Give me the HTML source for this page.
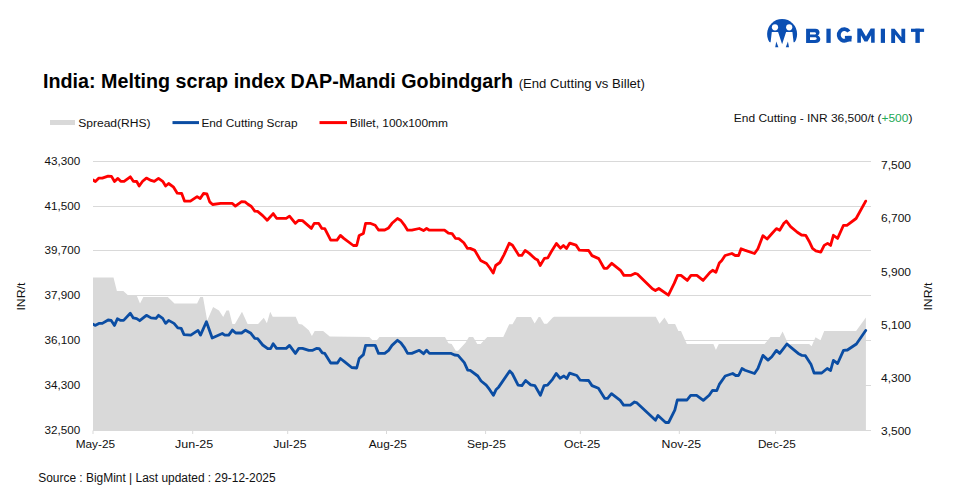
<!DOCTYPE html>
<html><head><meta charset="utf-8"><style>
html,body{margin:0;padding:0;background:#fff;width:953px;height:497px;overflow:hidden}
svg{display:block}
text{font-family:"Liberation Sans", sans-serif}
</style></head><body>
<svg width="953" height="497" viewBox="0 0 953 497">
<defs><clipPath id="pc"><rect x="93" y="100" width="800" height="340"/></clipPath></defs>
<line x1="93" y1="161.5" x2="871" y2="161.5" stroke="#d9d9d9" stroke-width="1.2"/>
<line x1="93" y1="206.5" x2="871" y2="206.5" stroke="#d9d9d9" stroke-width="1.2"/>
<line x1="93" y1="250.5" x2="871" y2="250.5" stroke="#d9d9d9" stroke-width="1.2"/>
<line x1="93" y1="295.5" x2="871" y2="295.5" stroke="#d9d9d9" stroke-width="1.2"/>
<line x1="93" y1="340.5" x2="871" y2="340.5" stroke="#d9d9d9" stroke-width="1.2"/>
<line x1="93" y1="385.5" x2="871" y2="385.5" stroke="#d9d9d9" stroke-width="1.2"/>
<line x1="93" y1="430.5" x2="871" y2="430.5" stroke="#d9d9d9" stroke-width="1.2"/>
<polygon points="93.0,430.5 93.0,277.6 113.5,277.6 116.9,291.0 123.3,291.0 128.3,295.5 136.7,295.5 140.0,303.6 143.4,296.9 167.8,296.9 174.5,303.6 197.1,303.6 200.2,296.9 203.0,296.9 207.2,320.4 213.1,306.9 219.0,310.6 223.2,317.0 226.5,310.6 229.0,310.6 232.4,324.1 234.9,324.1 242.0,311.8 247.6,323.9 258.1,323.9 263.8,317.7 266.9,323.2 270.2,311.8 272.7,316.8 295.7,316.8 298.8,323.9 302.1,324.4 308.8,330.3 311.9,336.1 314.7,331.1 323.1,331.1 329.8,336.6 369.3,337.0 372.6,340.3 376.8,340.3 379.4,337.0 445.0,336.9 448.4,343.3 451.7,344.0 455.8,350.7 458.0,350.7 465.5,342.8 468.9,336.9 473.1,336.9 477.3,344.0 480.6,344.0 487.3,336.9 503.3,336.9 509.2,324.3 512.5,324.3 516.7,317.1 531.0,317.1 534.7,323.5 538.6,317.1 540.2,317.1 544.1,323.8 547.0,323.8 552.8,317.6 554.2,316.8 655.8,316.8 659.5,323.8 664.5,317.6 668.4,324.0 675.1,324.0 678.4,331.1 681.0,331.1 686.8,344.0 713.4,344.0 715.9,350.0 718.8,344.0 764.6,344.0 770.5,336.9 779.7,336.9 782.6,331.6 787.3,342.0 789.0,344.0 809.1,344.0 811.6,346.2 815.5,337.3 820.5,340.3 824.2,331.1 856.1,331.1 865.9,317.5 865.9,430.5" fill="#d9d9d9"/>
<line x1="93" y1="430.5" x2="93" y2="434" stroke="#d9d9d9" stroke-width="1"/>
<line x1="192.7" y1="430.5" x2="192.7" y2="434" stroke="#d9d9d9" stroke-width="1"/>
<line x1="287.7" y1="430.5" x2="287.7" y2="434" stroke="#d9d9d9" stroke-width="1"/>
<line x1="386.5" y1="430.5" x2="386.5" y2="434" stroke="#d9d9d9" stroke-width="1"/>
<line x1="485.6" y1="430.5" x2="485.6" y2="434" stroke="#d9d9d9" stroke-width="1"/>
<line x1="580.3" y1="430.5" x2="580.3" y2="434" stroke="#d9d9d9" stroke-width="1"/>
<line x1="679.3" y1="430.5" x2="679.3" y2="434" stroke="#d9d9d9" stroke-width="1"/>
<line x1="775.6" y1="430.5" x2="775.6" y2="434" stroke="#d9d9d9" stroke-width="1"/>
<polyline points="93.0,324.1 95.1,325.4 98.9,323.4 102.3,323.4 108.1,320.0 111.2,320.4 114.5,325.4 117.4,318.7 120.7,320.4 123.6,320.4 130.3,313.3 133.3,317.9 136.7,318.7 139.7,320.7 146.4,315.3 151.0,317.9 156.0,318.4 158.5,315.3 162.7,318.4 165.6,323.4 168.6,320.4 174.0,323.4 177.8,327.9 181.2,328.4 184.0,334.6 190.8,335.1 198.0,330.4 200.5,335.1 206.4,321.7 212.2,338.0 222.3,333.5 224.8,335.1 228.7,335.1 232.4,330.1 235.7,333.0 241.6,333.0 245.5,330.2 250.9,333.3 254.8,338.3 257.6,338.7 262.7,345.0 267.7,348.7 270.6,348.7 273.2,343.7 276.6,348.4 286.2,348.4 289.5,345.4 295.4,353.4 298.8,348.4 302.5,348.4 308.8,350.4 312.2,350.4 316.4,348.4 319.2,348.7 322.3,352.9 324.8,353.4 330.7,363.0 337.4,363.0 340.4,358.5 344.1,361.3 351.7,367.5 356.7,368.0 359.2,358.5 363.4,354.6 365.6,345.4 375.2,345.4 378.5,353.4 384.7,353.4 388.6,350.4 392.0,345.4 397.5,340.3 400.9,342.8 404.2,347.3 407.6,353.4 411.8,353.4 419.3,350.3 423.5,353.7 426.6,350.3 429.4,353.4 451.2,353.4 454.6,355.0 458.0,355.4 464.3,362.6 467.7,370.1 470.2,370.4 477.8,376.0 481.1,381.0 486.2,385.2 489.5,389.4 493.4,395.3 496.2,389.4 498.8,386.9 509.7,371.0 512.2,373.5 518.1,385.2 521.9,385.6 525.6,380.5 530.7,384.9 534.9,385.6 540.4,395.3 544.1,385.6 547.5,385.2 552.5,379.3 556.2,373.5 560.0,378.2 563.9,376.0 566.8,378.5 569.6,373.1 576.8,375.5 580.2,380.2 588.6,380.5 592.0,385.6 598.4,388.3 604.8,398.4 607.6,398.4 611.5,393.7 620.2,400.4 623.6,405.1 630.3,405.1 634.5,402.0 637.0,402.9 655.5,420.2 658.0,415.5 665.6,422.5 668.6,422.5 674.8,410.1 677.3,400.0 687.0,400.0 690.7,395.3 696.6,395.3 703.3,400.4 709.2,395.3 712.6,390.3 716.8,390.6 719.3,384.4 725.2,376.0 732.7,373.5 735.7,375.5 738.6,375.5 742.0,368.5 745.0,370.2 754.5,373.5 757.9,368.5 762.9,355.4 768.0,360.1 771.8,356.8 776.4,350.4 779.7,353.4 783.6,348.4 786.9,344.0 791.5,347.9 798.2,353.4 802.0,355.4 805.4,355.7 811.1,364.6 814.1,373.0 821.7,373.0 827.2,368.5 830.6,370.5 833.4,360.4 837.6,363.5 843.5,350.4 847.4,350.0 856.4,344.0 865.7,330.5" fill="none" stroke="#0b4da3" stroke-width="2.8" stroke-linejoin="round" stroke-linecap="round" clip-path="url(#pc)"/>
<polyline points="93.0,180.0 95.4,181.5 98.9,178.1 102.3,178.1 108.1,176.2 111.5,176.4 114.5,181.5 117.9,178.4 120.7,181.3 124.1,181.3 130.3,176.8 133.3,181.3 136.7,181.5 139.2,186.0 142.6,181.3 146.4,178.1 151.0,180.4 154.3,181.3 158.5,178.4 162.7,181.3 165.6,186.0 168.6,183.5 173.6,187.2 177.3,193.2 181.7,193.5 184.5,201.1 190.4,201.1 197.1,196.6 200.2,198.6 203.5,193.5 206.9,193.9 209.7,201.9 212.6,204.5 220.6,203.3 232.1,203.3 235.4,206.1 241.6,201.6 245.0,201.9 247.6,204.0 251.4,206.5 254.8,211.1 257.6,211.4 262.7,215.6 267.2,220.3 273.2,213.6 276.6,218.3 286.2,218.3 289.5,216.1 295.4,223.3 298.8,220.3 302.5,220.6 311.4,228.4 314.2,223.3 318.6,223.3 321.9,228.4 324.8,228.7 330.7,240.1 337.0,240.1 340.4,235.4 343.8,238.4 353.3,245.5 356.7,245.5 359.2,235.4 363.4,233.4 365.6,223.3 370.1,223.3 375.2,225.3 378.5,230.0 384.7,230.0 388.6,227.9 392.0,223.3 397.5,218.5 400.9,220.5 404.2,224.8 407.6,230.2 411.8,230.2 419.3,228.5 423.5,230.6 426.6,228.5 429.4,230.2 444.5,230.2 448.4,233.2 452.1,233.6 455.4,238.3 458.8,238.6 463.8,242.8 467.5,248.4 470.2,248.4 474.8,250.4 480.6,260.4 486.5,263.5 489.9,268.0 493.2,273.0 495.7,265.5 499.9,262.5 504.1,254.6 509.2,243.3 512.5,245.3 518.9,255.4 521.8,255.4 525.1,250.4 529.3,253.4 535.2,258.8 537.7,260.1 540.2,265.5 544.4,258.4 547.8,257.9 551.1,252.0 556.4,243.5 560.4,248.2 563.4,245.5 566.5,248.5 569.8,243.1 576.0,245.1 579.4,250.2 588.6,250.5 592.0,255.6 598.7,258.6 604.1,268.3 607.1,268.3 611.8,263.3 620.5,270.3 623.9,275.4 630.6,275.4 634.8,273.4 637.3,274.0 652.4,288.8 655.4,290.5 658.8,288.5 668.4,295.2 674.2,283.4 677.6,275.4 681.0,275.4 687.3,280.4 691.0,275.4 696.9,275.4 703.1,280.4 710.0,272.3 712.6,270.3 715.9,272.3 719.3,263.0 721.8,260.5 725.1,255.5 731.9,253.5 735.2,255.5 738.6,255.5 741.1,248.8 744.5,250.1 754.5,253.5 757.9,248.8 762.9,235.7 767.1,239.0 772.2,233.3 776.4,228.6 779.7,230.3 783.9,223.2 786.4,221.1 790.6,226.6 797.3,232.3 801.5,235.0 805.7,235.3 809.1,241.2 812.5,248.4 815.8,250.8 820.8,252.1 824.2,245.4 827.6,243.4 830.6,245.4 833.4,235.3 837.6,238.4 843.5,225.3 846.9,225.3 856.1,218.5 865.7,201.1" fill="none" stroke="#ff0000" stroke-width="2.8" stroke-linejoin="round" stroke-linecap="round" clip-path="url(#pc)"/>
<text x="80.2" y="165.0" font-size="11.5" text-anchor="end" font-weight="normal" fill="#111" textLength="35.7" lengthAdjust="spacingAndGlyphs">43,300</text>
<text x="80.2" y="210.0" font-size="11.5" text-anchor="end" font-weight="normal" fill="#111" textLength="35.7" lengthAdjust="spacingAndGlyphs">41,500</text>
<text x="80.2" y="254.0" font-size="11.5" text-anchor="end" font-weight="normal" fill="#111" textLength="35.7" lengthAdjust="spacingAndGlyphs">39,700</text>
<text x="80.2" y="299.0" font-size="11.5" text-anchor="end" font-weight="normal" fill="#111" textLength="35.7" lengthAdjust="spacingAndGlyphs">37,900</text>
<text x="80.2" y="344.0" font-size="11.5" text-anchor="end" font-weight="normal" fill="#111" textLength="35.7" lengthAdjust="spacingAndGlyphs">36,100</text>
<text x="80.2" y="389.0" font-size="11.5" text-anchor="end" font-weight="normal" fill="#111" textLength="35.7" lengthAdjust="spacingAndGlyphs">34,300</text>
<text x="80.2" y="434.0" font-size="11.5" text-anchor="end" font-weight="normal" fill="#111" textLength="35.7" lengthAdjust="spacingAndGlyphs">32,500</text>
<text x="881" y="169.3" font-size="11.5" text-anchor="start" font-weight="normal" fill="#111" textLength="30" lengthAdjust="spacingAndGlyphs">7,500</text>
<text x="881" y="222.4" font-size="11.5" text-anchor="start" font-weight="normal" fill="#111" textLength="30" lengthAdjust="spacingAndGlyphs">6,700</text>
<text x="881" y="275.5" font-size="11.5" text-anchor="start" font-weight="normal" fill="#111" textLength="30" lengthAdjust="spacingAndGlyphs">5,900</text>
<text x="881" y="328.6" font-size="11.5" text-anchor="start" font-weight="normal" fill="#111" textLength="30" lengthAdjust="spacingAndGlyphs">5,100</text>
<text x="881" y="381.70000000000005" font-size="11.5" text-anchor="start" font-weight="normal" fill="#111" textLength="30" lengthAdjust="spacingAndGlyphs">4,300</text>
<text x="881" y="434.8" font-size="11.5" text-anchor="start" font-weight="normal" fill="#111" textLength="30" lengthAdjust="spacingAndGlyphs">3,500</text>
<text x="95.4" y="447.5" font-size="11.8" text-anchor="middle" font-weight="normal" fill="#111" textLength="39.4" lengthAdjust="spacingAndGlyphs">May-25</text>
<text x="194.1" y="447.5" font-size="11.8" text-anchor="middle" font-weight="normal" fill="#111" textLength="38.2" lengthAdjust="spacingAndGlyphs">Jun-25</text>
<text x="289.9" y="447.5" font-size="11.8" text-anchor="middle" font-weight="normal" fill="#111" textLength="33.3" lengthAdjust="spacingAndGlyphs">Jul-25</text>
<text x="387.8" y="447.5" font-size="11.8" text-anchor="middle" font-weight="normal" fill="#111" textLength="38.2" lengthAdjust="spacingAndGlyphs">Aug-25</text>
<text x="486.5" y="447.5" font-size="11.8" text-anchor="middle" font-weight="normal" fill="#111" textLength="38.9" lengthAdjust="spacingAndGlyphs">Sep-25</text>
<text x="582.2" y="447.5" font-size="11.8" text-anchor="middle" font-weight="normal" fill="#111" textLength="36.3" lengthAdjust="spacingAndGlyphs">Oct-25</text>
<text x="681.4" y="447.5" font-size="11.8" text-anchor="middle" font-weight="normal" fill="#111" textLength="39.6" lengthAdjust="spacingAndGlyphs">Nov-25</text>
<text x="776.8" y="447.5" font-size="11.8" text-anchor="middle" font-weight="normal" fill="#111" textLength="37.8" lengthAdjust="spacingAndGlyphs">Dec-25</text>
<text transform="translate(25.1,296.6) rotate(-90)" font-size="11" text-anchor="middle" fill="#111" textLength="28" lengthAdjust="spacingAndGlyphs">INR/t</text>
<text transform="translate(932,296.6) rotate(-90)" font-size="11" text-anchor="middle" fill="#111" textLength="28" lengthAdjust="spacingAndGlyphs">INR/t</text>
<text x="43" y="88.2" font-size="19.5" text-anchor="start" font-weight="bold" fill="#000" textLength="470" lengthAdjust="spacingAndGlyphs">India: Melting scrap index DAP-Mandi Gobindgarh</text>
<text x="518.7" y="88.2" font-size="13" text-anchor="start" font-weight="normal" fill="#111" textLength="126.2" lengthAdjust="spacingAndGlyphs">(End Cutting vs Billet)</text>
<rect x="50" y="120" width="25" height="5" fill="#d9d9d9"/>
<text x="78.2" y="126.7" font-size="11.7" text-anchor="start" font-weight="normal" fill="#111" textLength="72.4" lengthAdjust="spacingAndGlyphs">Spread(RHS)</text>
<line x1="172.5" y1="122.6" x2="199" y2="122.6" stroke="#0b4da3" stroke-width="3"/>
<text x="201.4" y="126.7" font-size="11.7" text-anchor="start" font-weight="normal" fill="#111" textLength="96.1" lengthAdjust="spacingAndGlyphs">End Cutting Scrap</text>
<line x1="319.5" y1="122.6" x2="347" y2="122.6" stroke="#ff0000" stroke-width="3"/>
<text x="349.8" y="126.7" font-size="11.7" text-anchor="start" font-weight="normal" fill="#111" textLength="98.2" lengthAdjust="spacingAndGlyphs">Billet, 100x100mm</text>
<text x="733.8" y="121.8" font-size="11.7" fill="#111" textLength="178.6" lengthAdjust="spacingAndGlyphs">End Cutting - INR 36,500/t (<tspan fill="#22a855">+500</tspan>)</text>
<text x="38.2" y="481.9" font-size="12.3" text-anchor="start" font-weight="normal" fill="#111" textLength="237.4" lengthAdjust="spacingAndGlyphs">Source : BigMint | Last updated : 29-12-2025</text>
<circle cx="782.1" cy="34.1" r="15" fill="#0b4fb3"/>
<circle cx="775.0" cy="27.3" r="3.1" fill="#fff"/>
<circle cx="789.2" cy="27.3" r="3.1" fill="#fff"/>
<polygon points="771.8,31.9 778.1,31.9 782.1,44.3 786.1,31.9 792.4,31.9 793.6,42.2 804,42.2 804,52 760,52 760,42.2 770.6,42.2" fill="#fff"/>
<polygon points="776.3,41.4 775.2,47.3 778.4,47.3" fill="#0b4fb3"/>
<polygon points="787.9,41.4 789.0,47.3 785.8,47.3" fill="#0b4fb3"/>
<path fill-rule="evenodd" fill="#0b4fb3" d="M806.1,28.7 H815.3 C818.2,28.7 819.5,30.3 819.5,32.2 C819.5,33.6 818.8,34.8 817.6,35.4 C819.3,36.0 820.3,37.4 820.3,39.2 C820.3,41.5 818.6,42.9 815.3,42.9 H806.1 Z M810.0,32.2 H814.4 C815.5,32.2 816.0,32.8 816.0,33.45 C816.0,34.1 815.5,34.6 814.4,34.6 H810.0 Z M810.0,37.3 H814.9 C816.1,37.3 816.7,37.9 816.7,38.6 C816.7,39.3 816.1,39.9 814.9,39.9 H810.0 Z"/>
<rect x="826.4" y="28.7" width="4.3" height="14.2" fill="#0b4fb3"/>
<path d="M848.9,31.5 A5.6 5.8 0 1 0 849.6,37.0" fill="none" stroke="#0b4fb3" stroke-width="3.9"/>
<rect x="844.9" y="35.9" width="6.6" height="2.9" fill="#0b4fb3"/>
<rect x="847.6" y="35.9" width="3.9" height="5.6" fill="#0b4fb3"/>
<polygon fill="#0b4fb3" points="857.3,42.8 857.3,28.6 861.3,28.6 866.0,36.4 870.7,28.6 874.7,28.6 874.7,42.8 871.1,42.8 871.1,35.2 867.5,41.6 864.5,41.6 860.9,35.2 860.9,42.8"/>
<rect x="880.8" y="28.7" width="4.2" height="14.2" fill="#0b4fb3"/>
<polygon fill="#0b4fb3" points="891.2,42.9 891.2,28.7 894.6,28.7 901.4,37.3 901.4,28.7 905.2,28.7 905.2,42.9 901.8,42.9 895.1,34.4 895.1,42.9"/>
<rect x="911.0" y="28.7" width="13.1" height="3.2" fill="#0b4fb3"/>
<rect x="915.4" y="28.7" width="4.4" height="14.2" fill="#0b4fb3"/>
</svg>
</body></html>
